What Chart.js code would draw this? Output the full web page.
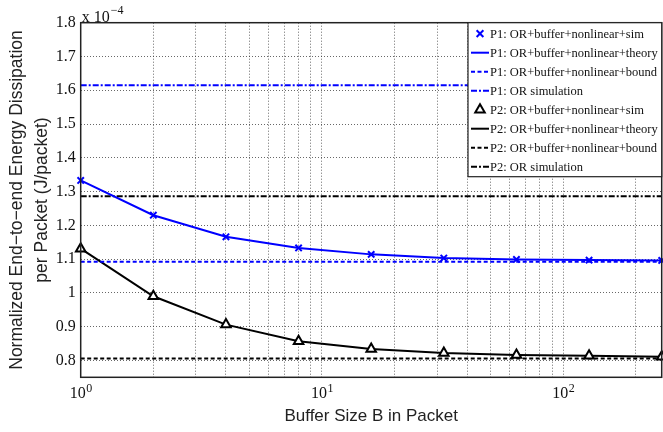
<!DOCTYPE html>
<html>
<head>
<meta charset="utf-8">
<script src="https://cdn.jsdelivr.net/npm/chart.js@4/dist/chart.umd.min.js"></script>
<style>
  html, body { margin: 0; padding: 0; background: #fff; }
</style>
</head>
<body>
<canvas id="chart" width="663" height="432"></canvas>
<script>
// Buffer sizes (x) and the read-off curves, values in units of 1e-4 J/packet
const bufferSizes = [1, 2, 4, 8, 16, 32, 64, 128, 256];
const p1Sim = [1.333, 1.230, 1.166, 1.133, 1.114, 1.103, 1.099, 1.097, 1.096];
const p1Theory = [1.333, 1.230, 1.166, 1.133, 1.114, 1.103, 1.099, 1.097, 1.096];
const p2Sim = [1.131, 0.990, 0.906, 0.857, 0.834, 0.822, 0.816, 0.814, 0.811];
const p2Theory = [1.131, 0.990, 0.906, 0.857, 0.834, 0.822, 0.816, 0.814, 0.811];

// flat reference lines span the whole x range
const flatX = [1, 256];
const p1Bound = [1.092, 1.092];
const p1OrSim = [1.615, 1.615];
const p2Bound = [0.806, 0.806];
const p2OrSim = [1.286, 1.286];

const seriesLabels = [
  'P1: OR+buffer+nonlinear+sim',
  'P1: OR+buffer+nonlinear+theory',
  'P1: OR+buffer+nonlinear+bound',
  'P1: OR simulation',
  'P2: OR+buffer+nonlinear+sim',
  'P2: OR+buffer+nonlinear+theory',
  'P2: OR+buffer+nonlinear+bound',
  'P2: OR simulation'
];

const yTicks = [0.8, 0.9, 1.0, 1.1, 1.2, 1.3, 1.4, 1.5, 1.6, 1.7, 1.8];
const xGridTicks = [1, 2, 3, 4, 5, 6, 7, 8, 9, 10, 20, 30, 40, 50, 60, 70, 80, 90, 100, 200];
const xDecades = [0, 1, 2]; // labelled as 10^k

const BLUE = '#0000ff';
const BLACK = '#000000';
const SERIF = '"Liberation Serif", "Times New Roman", serif';
const SANS = '"Liberation Sans", Arial, sans-serif';

const pts = (xs, ys) => xs.map((x, i) => ({ x: x, y: ys[i] }));

function markerSet(label, ys, color, style, radius) {
  return {
    label: label, data: pts(bufferSizes, ys), showLine: false, clip: false,
    pointStyle: style, pointRadius: radius, pointBorderWidth: 2,
    pointBorderColor: color, pointBackgroundColor: '#fff', borderColor: color
  };
}

function lineSet(label, xs, ys, color, dash) {
  return {
    label: label, data: pts(xs, ys), borderColor: color, borderWidth: 2,
    borderDash: dash, pointRadius: 0, tension: 0, fill: false
  };
}

const datasets = [
  markerSet(seriesLabels[0], p1Sim, BLUE, 'crossRot', 4.5),
  lineSet(seriesLabels[1], bufferSizes, p1Theory, BLUE, []),
  lineSet(seriesLabels[2], flatX, p1Bound, BLUE, [4, 2.5]),
  lineSet(seriesLabels[3], flatX, p1OrSim, BLUE, [6, 2, 2, 2]),
  markerSet(seriesLabels[4], p2Sim, BLACK, 'triangle', 5.5),
  lineSet(seriesLabels[5], bufferSizes, p2Theory, BLACK, []),
  lineSet(seriesLabels[6], flatX, p2Bound, BLACK, [4, 2.5]),
  lineSet(seriesLabels[7], flatX, p2OrSim, BLACK, [6, 2, 2, 2])
];

// frame round the plot, "x 10^-4" multiplier and the 10^k tick labels
const framePlugin = {
  id: 'frame',
  afterDraw(chart) {
    const { ctx, chartArea: a } = chart;
    ctx.save();
    ctx.strokeStyle = '#222';
    ctx.lineWidth = 1.5;
    ctx.setLineDash([]);
    ctx.strokeRect(a.left, a.top, a.right - a.left, a.bottom - a.top);

    ctx.fillStyle = '#111';
    ctx.textBaseline = 'alphabetic';
    ctx.textAlign = 'left';
    ctx.font = '16px ' + SERIF;
    ctx.fillText('x 10', a.left + 1, a.top - 1);
    let w = ctx.measureText('x 10').width;
    ctx.font = '12px ' + SERIF;
    ctx.fillText('\u22124', a.left + 2 + w, a.top - 9);

    const xs = chart.scales.x;
    xDecades.forEach(k => {
      const px = xs.getPixelForValue(Math.pow(10, k));
      ctx.font = '16px ' + SERIF;
      const wb = ctx.measureText('10').width;
      ctx.font = '12px ' + SERIF;
      const we = ctx.measureText(String(k)).width;
      const x0 = px - (wb + we) / 2;
      ctx.font = '16px ' + SERIF;
      ctx.fillText('10', x0, 398);
      ctx.font = '12px ' + SERIF;
      ctx.fillText(String(k), x0 + wb + 0.5, 392);
    });
    ctx.restore();
  }
};

// boxed legend in the top right corner of the plot
const boxLegend = {
  id: 'boxLegend',
  afterDraw(chart) {
    const { ctx, chartArea: a } = chart;
    const sets = chart.data.datasets;
    const left = 468, top = a.top, rowH = 19;
    const height = sets.length * rowH + 2;
    ctx.save();
    ctx.fillStyle = '#fff';
    ctx.fillRect(left, top, a.right - left, height);
    ctx.strokeStyle = '#222';
    ctx.lineWidth = 1.2;
    ctx.setLineDash([]);
    ctx.strokeRect(left, top, a.right - left, height);

    sets.forEach((ds, i) => {
      const y = top + 11 + i * rowH;
      const cx = 480;
      ctx.strokeStyle = ds.borderColor;
      ctx.lineWidth = 2;
      if (ds.showLine === false) {
        ctx.setLineDash([]);
        const r = ds.pointRadius;
        ctx.beginPath();
        if (ds.pointStyle === 'crossRot') {
          const d = r * 0.75;
          ctx.moveTo(cx - d, y - d); ctx.lineTo(cx + d, y + d);
          ctx.moveTo(cx - d, y + d); ctx.lineTo(cx + d, y - d);
        } else {
          ctx.moveTo(cx, y - r);
          ctx.lineTo(cx + r * 0.866, y + r / 2);
          ctx.lineTo(cx - r * 0.866, y + r / 2);
          ctx.closePath();
        }
        ctx.stroke();
      } else {
        ctx.setLineDash(ds.borderDash);
        ctx.beginPath();
        ctx.moveTo(471, y);
        ctx.lineTo(489, y);
        ctx.stroke();
      }
      ctx.setLineDash([]);
      ctx.fillStyle = '#111';
      ctx.font = '12.5px ' + SERIF;
      ctx.textBaseline = 'middle';
      ctx.textAlign = 'left';
      ctx.fillText(ds.label, 490, y + 1);
    });
    ctx.restore();
  }
};

new Chart(document.getElementById('chart'), {
  type: 'line',
  data: { datasets: datasets },
  plugins: [framePlugin, boxLegend],
  options: {
    responsive: false,
    animation: false,
    devicePixelRatio: 1,
    layout: { autoPadding: false, padding: { left: 0, top: 22.7, right: 1.3, bottom: 0 } },
    plugins: { legend: { display: false }, tooltip: { enabled: false } },
    scales: {
      x: {
        type: 'logarithmic',
        min: 1,
        max: 256,
        bounds: 'data',
        afterBuildTicks: scale => { scale.ticks = xGridTicks.map(v => ({ value: v })); },
        afterFit: scale => { scale.height = 54.7; },
        grid: { color: 'rgba(40,40,40,0.7)', lineWidth: 1, drawTicks: false },
        border: { display: false, dash: [1, 2] },
        ticks: { display: false },
        title: {
          display: true,
          text: 'Buffer Size B in Packet',
          color: '#222',
          font: { family: SANS, size: 17 },
          padding: { top: 0, bottom: 5 }
        }
      },
      y: {
        type: 'linear',
        min: 0.75,
        max: 1.8,
        afterBuildTicks: scale => { scale.ticks = yTicks.map(v => ({ value: v })); },
        afterFit: scale => {
          scale.width = 80.7;
          scale.paddingTop = 0;
          scale.paddingBottom = 0;
        },
        grid: { color: 'rgba(40,40,40,0.7)', lineWidth: 1, drawTicks: false },
        border: { display: false, dash: [1, 2] },
        ticks: {
          padding: 5,
          color: '#111',
          font: { family: SERIF, size: 16 },
          callback: v => String(Math.round(v * 10) / 10)
        },
        title: {
          display: true,
          text: ['Normalized End\u2212to\u2212end Energy Dissipation', 'per Packet (J/packet)'],
          color: '#222',
          font: { family: SANS, size: 17.5, lineHeight: 1.4 },
          padding: { top: 5, bottom: 0 }
        }
      }
    }
  }
});
</script>
</body>
</html>
